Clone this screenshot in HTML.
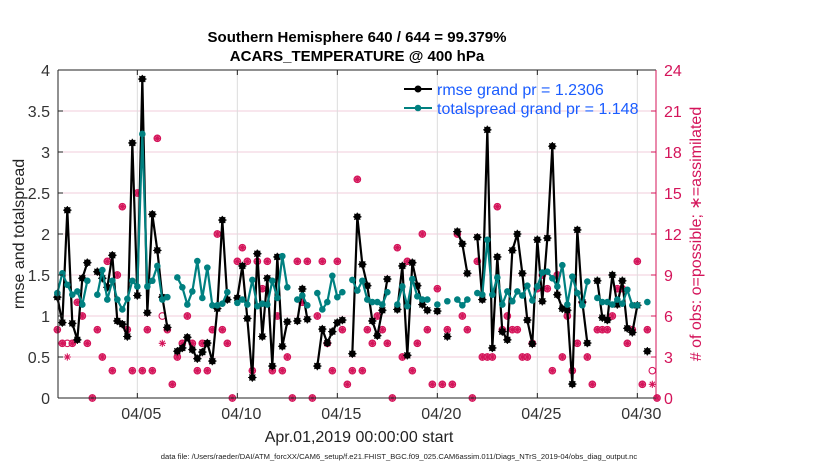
<!DOCTYPE html>
<html><head><meta charset="utf-8">
<style>
body{margin:0;background:#fff;}
svg{display:block;font-family:"Liberation Sans",Arial,sans-serif;}
</style></head>
<body>
<svg id="chart" width="830" height="470" viewBox="0 0 830 470" xmlns="http://www.w3.org/2000/svg">
<rect width="830" height="470" fill="#fff"/>
<g id="grid"></g>
<g id="pink"></g>
<g id="series"></g>
<g id="axes"></g>
<text x="357" y="42" font-size="15" font-weight="bold" text-anchor="middle">Southern Hemisphere 640 / 644 = 99.379%</text>
<text x="357" y="61" font-size="15" font-weight="bold" text-anchor="middle">ACARS_TEMPERATURE @ 400 hPa</text>
<text transform="translate(24,234) rotate(-90)" font-size="16" text-anchor="middle" fill="#222">rmse and totalspread</text>
<text transform="translate(701,234) rotate(-90)" font-size="16" text-anchor="middle" fill="#d4145a"># of obs: o=possible; ∗=assimilated</text>
<text x="359" y="442" font-size="16" text-anchor="middle" fill="#222">Apr.01,2019 00:00:00 start</text>
<text x="399" y="459" font-size="7.6" text-anchor="middle" fill="#222">data file: /Users/raeder/DAI/ATM_forcXX/CAM6_setup/f.e21.FHIST_BGC.f09_025.CAM6assim.011/Diags_NTrS_2019-04/obs_diag_output.nc</text>
<g id="legend">
  <line x1="404" y1="89" x2="432" y2="89" stroke="#000" stroke-width="2"/>
  <circle cx="418" cy="89" r="3.5" fill="#000"/>
  <text x="437" y="95" font-size="16" fill="#1a5cff">rmse grand pr = 1.2306</text>
  <line x1="404" y1="108" x2="432" y2="108" stroke="#008080" stroke-width="2"/>
  <circle cx="418" cy="108" r="3.3" fill="#008080"/>
  <text x="437" y="114" font-size="16" fill="#1a5cff">totalspread grand pr = 1.148</text>
</g>
</svg>
<script>
const rmse=[1.23,0.92,2.29,0.91,0.71,1.46,1.65,null,1.54,1.46,1.35,1.74,0.94,0.90,0.75,3.11,1.25,3.89,1.04,2.24,1.80,1.23,0.86,null,0.57,0.61,0.74,0.59,0.48,0.56,0.67,0.45,1.09,2.17,1.20,null,1.22,1.61,0.97,0.25,1.76,0.75,1.46,0.39,1.72,0.63,0.93,null,0.94,1.33,0.96,null,0.39,0.84,0.67,0.81,0.92,0.95,null,0.54,2.21,1.63,1.37,0.94,0.76,1.07,1.45,null,1.08,1.61,0.52,1.65,1.37,1.14,1.07,null,1.06,null,0.75,null,2.03,1.88,1.52,null,1.96,1.20,3.27,0.61,1.72,0.81,0.71,1.80,2.00,1.52,0.95,0.66,1.93,1.18,1.95,3.07,1.26,1.09,1.07,0.17,2.05,1.17,0.67,null,1.43,0.98,0.95,1.50,1.14,1.43,0.85,0.80,1.13,null,0.57,null,null];
const spread=[1.28,1.52,1.38,1.26,1.30,1.14,1.43,null,1.26,1.56,1.20,1.43,1.20,1.08,1.21,1.43,1.36,3.22,1.36,1.43,1.61,1.20,1.23,null,1.47,1.35,1.14,1.30,1.67,1.22,1.59,1.13,1.13,1.15,1.29,null,1.16,1.20,1.14,1.44,1.12,1.15,1.14,1.43,1.22,1.73,1.35,null,1.20,1.25,1.13,null,1.28,1.08,1.17,1.49,1.23,1.29,null,1.44,1.31,1.43,1.20,1.17,1.17,1.14,1.29,null,1.14,1.36,1.12,1.45,1.24,1.20,1.20,null,1.14,null,1.18,null,1.20,1.13,1.20,null,1.28,1.26,1.93,1.26,1.47,1.14,1.30,1.18,1.30,1.25,1.37,1.19,1.36,1.53,1.54,1.46,1.36,1.62,1.14,1.48,1.28,1.13,1.42,null,1.22,1.17,1.17,1.14,1.20,1.15,1.32,1.13,1.13,null,1.17,null,null];
const possible=[5,4,4,4,7,6,4,0,5,3,10,2,9,14,5,2,15,2,5,2,19,6,5,1,3,4,6,4,2,4,2,5,12,5,4,0,10,11,10,2,10,8,10,2,6,2,3,0,10,7,10,0,6,10,4,2,10,5,1,2,16,2,5,4,6,5,4,0,11,3,10,2,4,12,5,1,8,1,5,1,12,6,5,0,10,3,3,3,14,5,6,5,5,3,3,4,8,9,8,2,9,3,6,2,4,7,3,1,5,5,5,6,8,8,4,5,10,1,5,2,0];
const assimilated=[5,4,3,4,7,6,4,0,5,3,10,2,9,14,5,2,15,2,5,2,19,4,5,1,3,4,6,4,2,4,2,5,12,5,4,0,10,11,10,2,10,8,10,2,6,2,3,0,10,7,10,0,6,10,4,2,10,5,1,2,16,2,5,4,6,5,4,0,11,3,10,2,4,12,5,1,8,1,5,1,12,6,5,0,10,3,3,3,14,5,6,5,5,3,3,4,8,9,8,2,9,3,6,2,4,7,3,1,5,5,5,6,8,8,4,5,10,1,5,1,0];
const yTicks=[0,0.5,1,1.5,2,2.5,3,3.5,4];
const yTickLabels=["0","0.5","1","1.5","2","2.5","3","3.5","4"];
const y2Ticks=[0,3,6,9,12,15,18,21,24];
const xTickBins=[16,36,56,76,96,116];
const xTickLabels=["04/05","04/10","04/15","04/20","04/25","04/30"];

const NS="http://www.w3.org/2000/svg";
const L=58,R=656,T=70,B=398;
function xs(i){return 57.33+5*i;}
function ys(v){return B-(B-T)*v/4;}
function yc(c){return B-(B-T)*c/24;}
function mk(tag,attrs,parent){const e=document.createElementNS(NS,tag);for(const k in attrs)e.setAttribute(k,attrs[k]);parent.appendChild(e);return e;}
const grid=document.getElementById('grid'),axes=document.getElementById('axes'),ser=document.getElementById('series'),pink=document.getElementById('pink');
const PK="#d4145a";

yTicks.forEach((v,k)=>{
  if(v>0&&v<4){const g=mk('line',{x1:L,x2:R,y1:ys(v),y2:ys(v),stroke:'#f2cddb','stroke-width':1},grid);
  
  }
  const t=mk('text',{x:L-8,y:ys(v)+6,'font-size':16,'text-anchor':'end',fill:'#333'},axes);
  t.textContent=yTickLabels[k];
  
  
  mk('line',{x1:L,x2:L+5,y1:ys(v),y2:ys(v),stroke:'#222'},axes);
});
y2Ticks.forEach(c=>{
  const t=mk('text',{x:R+8,y:yc(c)+6,'font-size':16,fill:PK},axes);
  t.textContent=String(c);
  
  
  mk('line',{x1:R-5,x2:R,y1:yc(c),y2:yc(c),stroke:PK},axes);
});
xTickBins.forEach((b,k)=>{
  const x=xs(b);
  const g=mk('line',{x1:x,x2:x,y1:T,y2:B,stroke:'#dcdcdc','stroke-width':1},grid);
  
  
  mk('line',{x1:x,x2:x,y1:B,y2:B-5,stroke:'#222'},axes);
  mk('line',{x1:x,x2:x,y1:T,y2:T+5,stroke:'#222'},axes);
  const t=mk('text',{x:x+4,y:419,'font-size':16,'text-anchor':'middle',fill:'#333'},axes);
  t.textContent=xTickLabels[k];
  
  
});
mk('line',{x1:L,x2:R,y1:T,y2:T,stroke:'#222','stroke-width':1},axes);
mk('line',{x1:L,x2:R,y1:B,y2:B,stroke:'#222','stroke-width':1},axes);
mk('line',{x1:L,x2:L,y1:T,y2:B,stroke:'#222','stroke-width':1},axes);
mk('line',{x1:R,x2:R,y1:T,y2:B,stroke:PK,'stroke-width':1},axes);

function star(cx,cy,r,col,parent){
  let d='';
  for(let a=0;a<4;a++){const an=a*Math.PI/4;const dx=r*Math.cos(an),dy=r*Math.sin(an);d+=`M${cx-dx},${cy-dy}L${cx+dx},${cy+dy}`;}
  return mk('path',{d:d,stroke:col,'stroke-width':1.1,fill:'none'},parent);
}
possible.forEach((c,i)=>{
  const x=Math.min(xs(i),R+1);
  const o=mk('circle',{cx:x,cy:yc(c),r:3.3,fill:'#e6739c',stroke:PK,'stroke-width':1.1},pink);
  
  
  if(assimilated[i]!==c)o.setAttribute('fill','none');
  const s=star(x,yc(assimilated[i]),3.6,PK,pink);
  
  
});

function drawSeries(arr,col,name,r,isStar){
  let d='',pen=false;
  arr.forEach((v,i)=>{
    if(v===null){pen=false;return;}
    d+=(pen?'L':'M')+xs(i)+','+ys(v);pen=true;
  });
  const p=mk('path',{d:d,stroke:col,'stroke-width':2.2,fill:'none','stroke-linejoin':'round'},ser);
  
  
  arr.forEach((v,i)=>{
    if(v===null)return;
    const c=mk('circle',{cx:xs(i),cy:ys(v),r:r,fill:col},ser);
    
    
    if(isStar)star(xs(i),ys(v),4.2,col,ser);
  });
}
drawSeries(rmse,'#000','rmse',3.4,true);
drawSeries(spread,'#008080','totalspread',3.3,false);
</script>
</body></html>
